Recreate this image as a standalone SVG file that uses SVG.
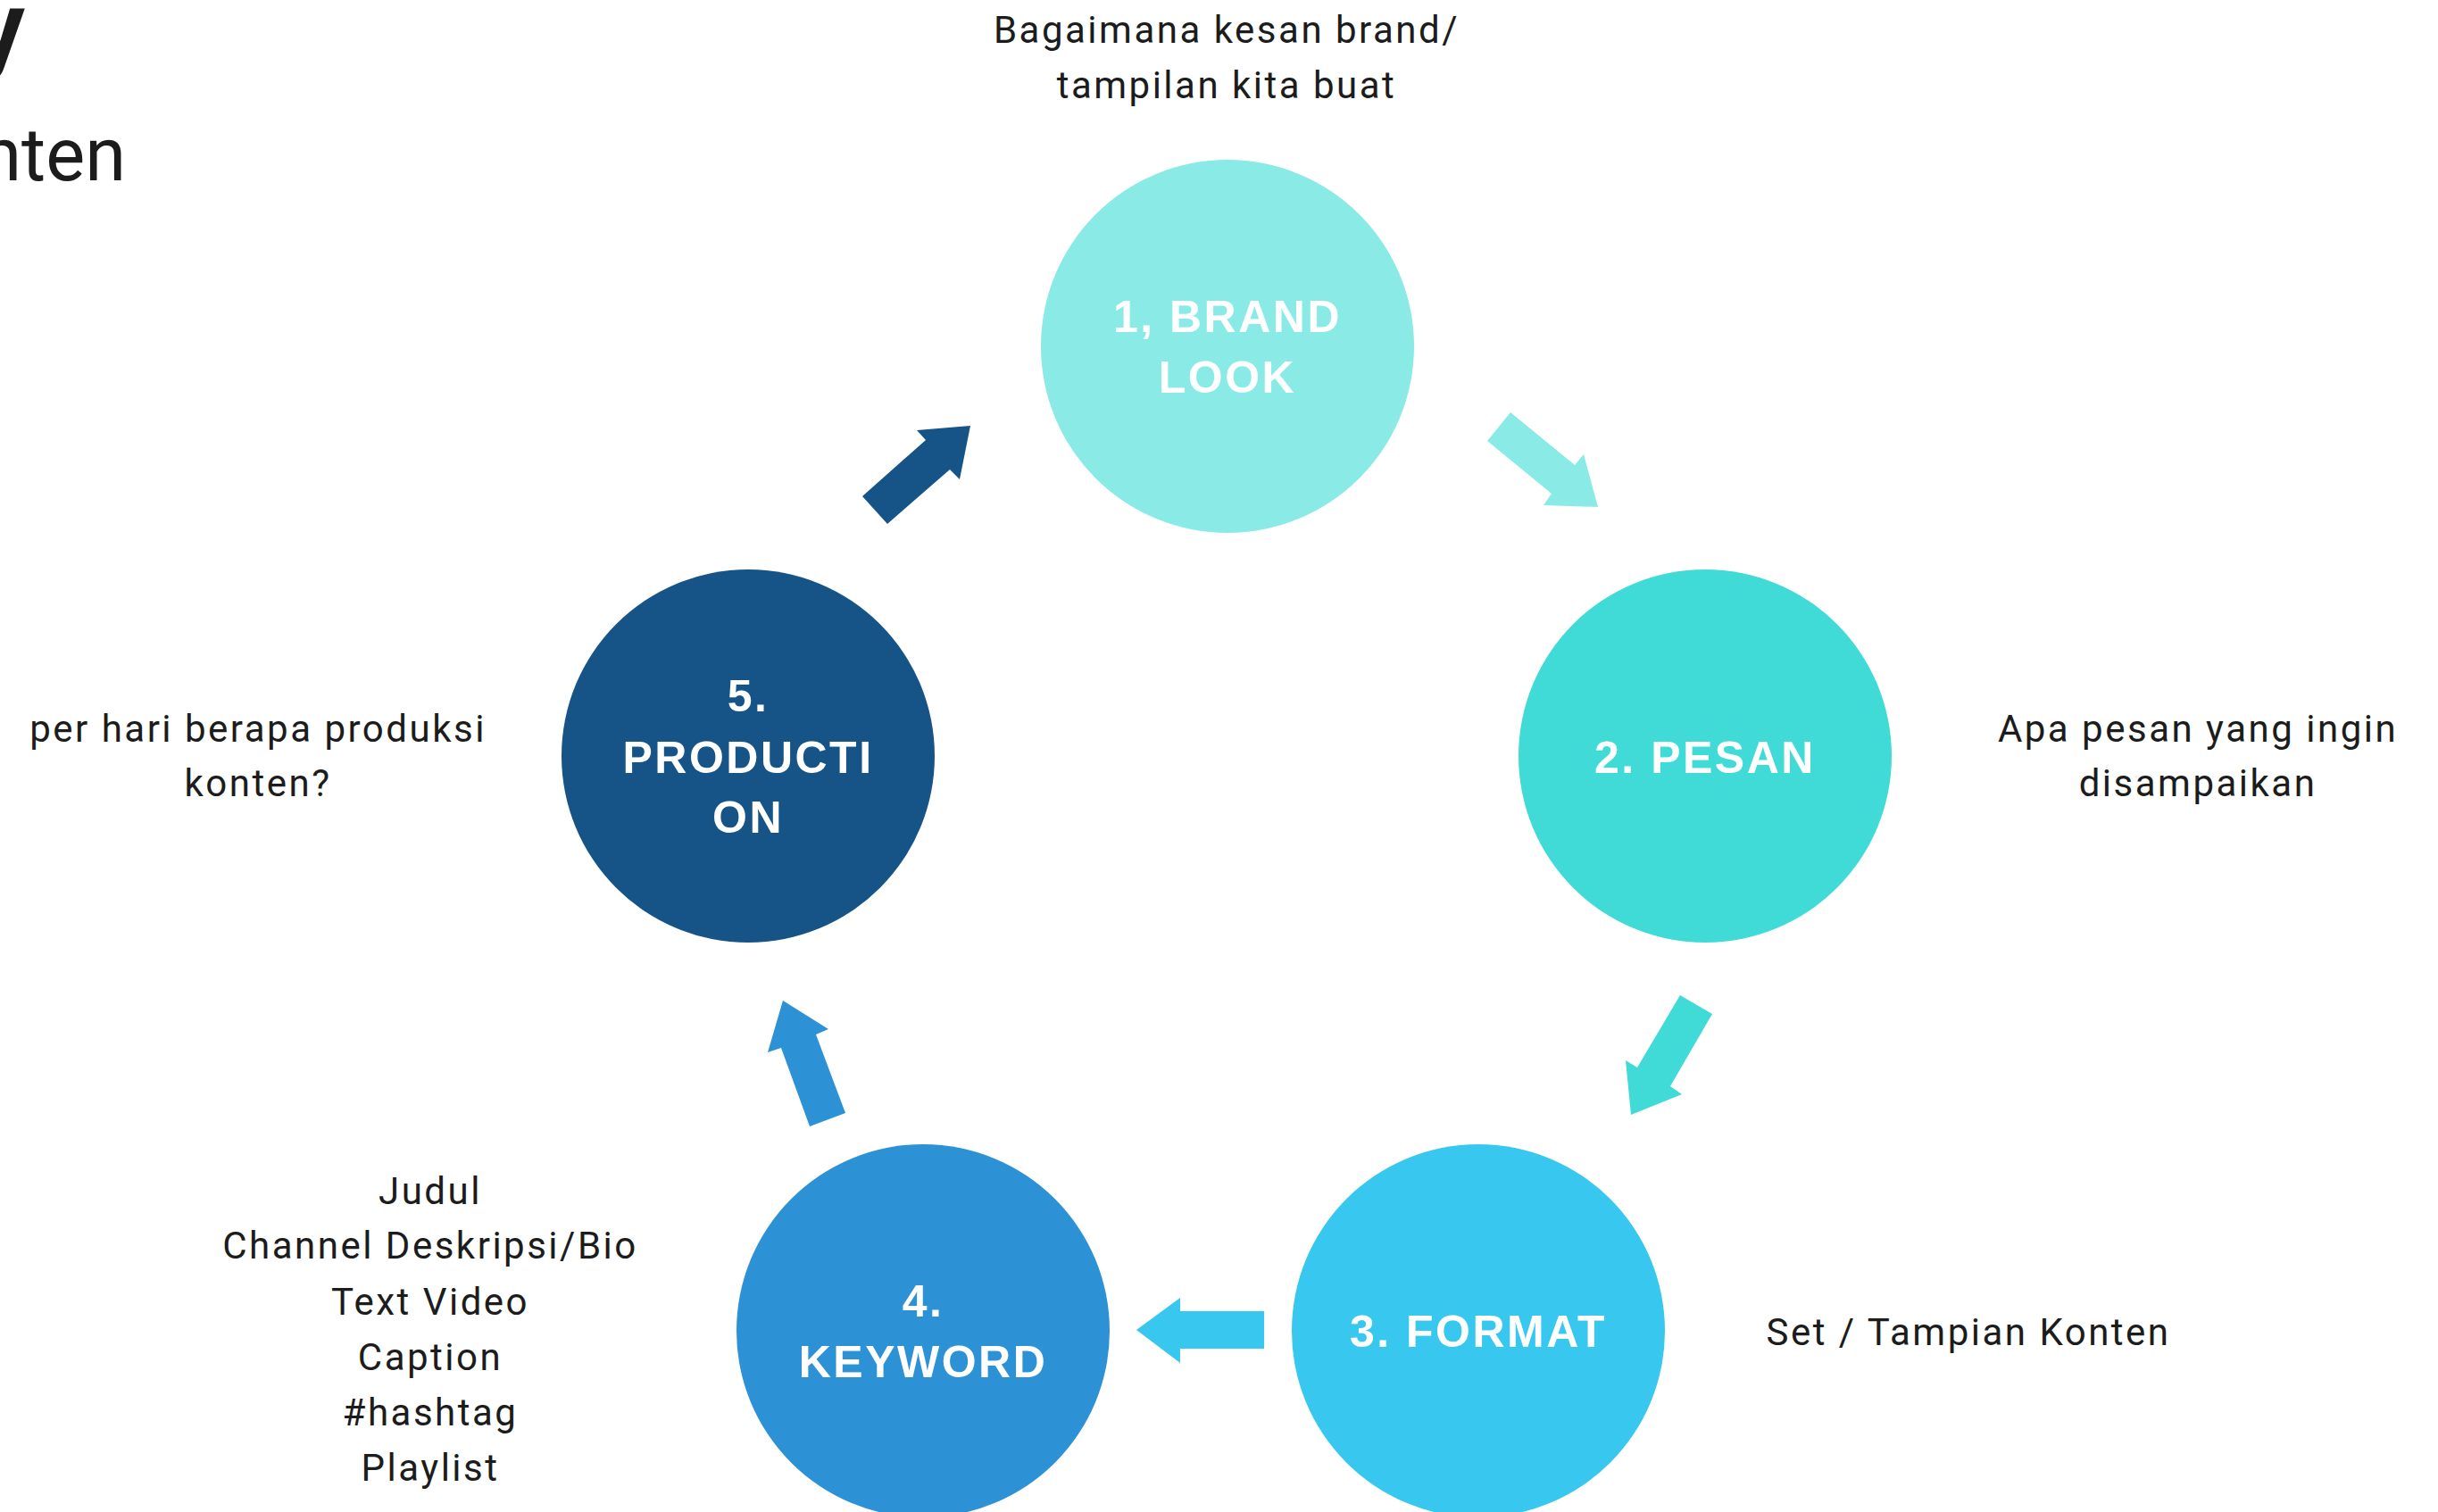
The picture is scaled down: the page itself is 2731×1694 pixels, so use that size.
<svg xmlns="http://www.w3.org/2000/svg" width="2731" height="1694" viewBox="0 0 2731 1694">
  <style>
    .lbl { font-family: "Liberation Sans", Arial, sans-serif; font-weight: bold; font-size: 50px; fill: #ffffff; letter-spacing: 2.5px; text-anchor: middle; }
    .note { font-family: Roboto, "Liberation Sans", Arial, sans-serif; font-size: 42px; fill: #1c1c1c; letter-spacing: 2.5px; text-anchor: middle; }
    .title { font-family: Roboto, "Liberation Sans", Arial, sans-serif; fill: #1c1c1c; text-anchor: end; }
  </style>

  <rect x="0" y="0" width="2731" height="1694" fill="#ffffff"/>

  <!-- heading, running off the left edge -->
  <g id="heading">
    <text class="title" x="28" y="68" font-size="110" font-weight="bold">y</text>
    <text class="title" x="141" y="202" font-size="83">nten</text>
  </g>

  <!-- block arrows between the steps -->
  <g id="connectors">
    <polygon id="arrow-1-2" fill="#89EAE6" points="1692,462 1764,521 1774,509 1790,568 1729,566 1738,553 1666,494"/>
    <polygon id="arrow-2-3" fill="#40DBD7" points="1882,1115 1918,1136 1871,1217 1884,1226 1827,1249 1821,1188 1834,1196"/>
    <polygon id="arrow-3-4" fill="#38C8EF" points="1416,1469 1322,1469 1322,1454 1273,1490 1322,1527 1322,1511 1416,1511"/>
    <polygon id="arrow-4-5" fill="#2D91D6" points="907,1262 947,1247 914,1159 928,1153 877,1121 860,1179 875,1174"/>
    <polygon id="arrow-5-1" fill="#165488" points="966,556 1037,493 1027,482 1087,477 1075,537 1064,526 994,587"/>
  </g>

  <g id="node-brand-look">
    <circle cx="1375" cy="388" r="209" fill="#89EAE6"/>
    <text class="lbl" x="1375" y="372">1, BRAND</text>
    <text class="lbl" x="1375" y="440">LOOK</text>
  </g>

  <g id="node-pesan">
    <circle cx="1910" cy="847" r="209" fill="#40DBD7"/>
    <text class="lbl" x="1910" y="866">2. PESAN</text>
  </g>

  <g id="node-format">
    <circle cx="1656" cy="1491" r="209" fill="#38C8EF"/>
    <text class="lbl" x="1656" y="1509">3. FORMAT</text>
  </g>

  <g id="node-keyword">
    <circle cx="1034" cy="1491" r="209" fill="#2D91D6"/>
    <text class="lbl" x="1034" y="1475">4.</text>
    <text class="lbl" x="1034" y="1543">KEYWORD</text>
  </g>

  <g id="node-production">
    <circle cx="838" cy="847" r="209" fill="#165488"/>
    <text class="lbl" x="838" y="797">5.</text>
    <text class="lbl" x="838" y="866">PRODUCTI</text>
    <text class="lbl" x="838" y="933">ON</text>
  </g>

  <!-- notes beside each step -->
  <g id="note-brand-look">
    <text class="note" x="1374" y="48">Bagaimana kesan brand/</text>
    <text class="note" x="1374" y="110">tampilan kita buat</text>
  </g>

  <g id="note-pesan">
    <text class="note" x="2462" y="831">Apa pesan yang ingin</text>
    <text class="note" x="2462" y="892">disampaikan</text>
  </g>

  <g id="note-format">
    <text class="note" x="2205" y="1507">Set / Tampian Konten</text>
  </g>

  <g id="note-keyword">
    <text class="note" x="482" y="1349">Judul</text>
    <text class="note" x="482" y="1410">Channel Deskripsi/Bio</text>
    <text class="note" x="482" y="1473">Text Video</text>
    <text class="note" x="482" y="1535">Caption</text>
    <text class="note" x="482" y="1597">#hashtag</text>
    <text class="note" x="482" y="1659">Playlist</text>
  </g>

  <g id="note-production">
    <text class="note" x="289" y="831">per hari berapa produksi</text>
    <text class="note" x="289" y="892">konten?</text>
  </g>
</svg>
